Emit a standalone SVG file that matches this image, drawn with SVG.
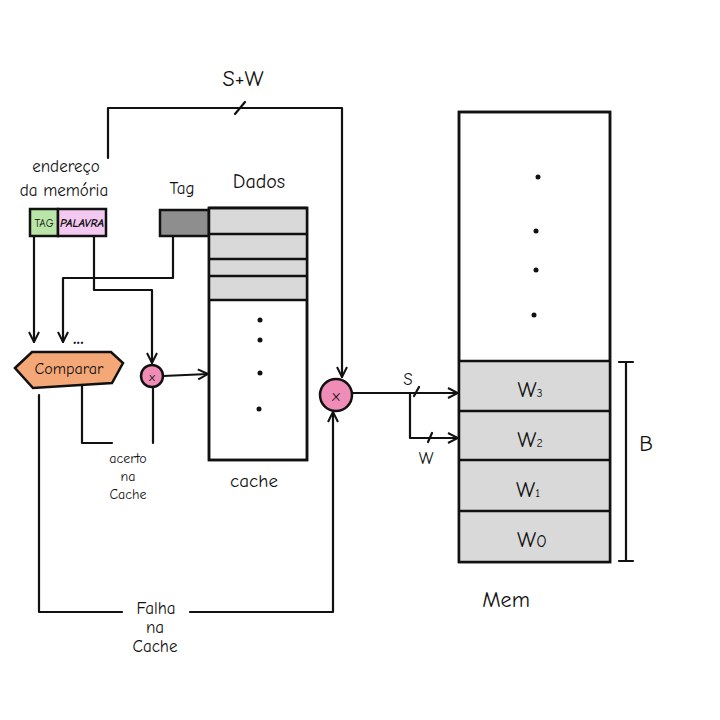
<svg xmlns="http://www.w3.org/2000/svg" width="720" height="720" viewBox="0 0 720 720">
<defs>
<marker id="ah" viewBox="0 0 12 12" refX="11" refY="6" markerWidth="12" markerHeight="12" markerUnits="userSpaceOnUse" orient="auto">
<path d="M1,1 L11,6 L1,11" fill="none" stroke="#111" stroke-width="2"/>
</marker>
</defs>
<style>
.ln{fill:none;stroke:#111;stroke-width:2.2;stroke-linecap:round;stroke-linejoin:round}
.bx{stroke:#111;stroke-width:2.5}
.t{font-family:"Comic Neue","Liberation Sans","DejaVu Sans",sans-serif;fill:#111;font-size:17px}
.s{font-size:14px}
.c{text-anchor:middle}
</style>
<rect width="720" height="720" fill="#fff"/>
<g id="connectors">
<path class="ln" d="M108,158 V108 H342 V377" marker-end="url(#ah)"/>
<path class="ln" d="M235,114 L245,102"/>
<path class="ln" d="M34,237 V342" marker-end="url(#ah)"/>
<path class="ln" d="M173,237 V278 H63 V342" marker-end="url(#ah)"/>
<path class="ln" d="M94,237 V290 H152 V363" marker-end="url(#ah)"/>
<path class="ln" d="M163,376 L208,374" marker-end="url(#ah)"/>
<path class="ln" d="M153,388 V443"/>
<path class="ln" d="M82,386 V443 H112"/>
<path class="ln" d="M39,395 V612 H122"/>
<path class="ln" d="M190,612 H333 V412" marker-end="url(#ah)"/>
<path class="ln" d="M353,393 H458" marker-end="url(#ah)"/>
<path class="ln" d="M414,396 L419,387"/>
<path class="ln" d="M410,393 V438 H458" marker-end="url(#ah)"/>
<path class="ln" d="M428,442 L432,433"/>
</g>
<g id="address">
<text class="t c" x="66" y="172">endereço</text>
<text class="t c" x="64" y="196">da memória</text>
<rect class="bx" x="30" y="209" width="28" height="27" fill="#b9e6a8"/>
<rect class="bx" x="58" y="209" width="48" height="27" fill="#f3c8f1"/>
<text class="t c" x="44" y="227" style="font-size:11px">TAG</text>
<text class="t c" x="82" y="227" style="font-size:11px;font-style:italic;font-weight:bold" textLength="44" lengthAdjust="spacingAndGlyphs">PALAVRA</text>
</g>
<g id="compare">
<polygon class="bx" points="15,368 32,352 111,352 123,363 112,383 33,388" fill="#f5a877"/>
<text class="t c" x="69" y="374" style="font-size:16px">Comparar</text>
<text class="t" x="73" y="344" style="font-size:20px;font-weight:bold">...</text>
</g>
<g id="mux1">
<circle class="bx" cx="152" cy="376" r="11" fill="#f08db6"/>
<text class="t c" x="152" y="381" style="font-size:12px">x</text>
</g>
<g id="hit">
<text class="t c s" x="128" y="463">acerto</text>
<text class="t c s" x="128" y="481">na</text>
<text class="t c s" x="128" y="499">Cache</text>
</g>
<g id="cache">
<text class="t c" x="182" y="194">Tag</text>
<text class="t c" x="259" y="188" style="font-size:20px">Dados</text>
<rect class="bx" x="160" y="210" width="49" height="26" fill="#8e8e8e"/>
<rect class="bx" x="209" y="208" width="98" height="252" fill="#fff"/>
<rect x="210" y="209" width="96" height="91" fill="#d9d9d9"/>
<path class="bx" d="M209,208 H307 M209,234 H307 M209,259 H307 M209,276 H307 M209,300 H307"/>
<rect class="bx" x="209" y="208" width="98" height="252" fill="none"/>
<circle cx="260" cy="320" r="2.5" fill="#111"/>
<circle cx="260" cy="340" r="2.5" fill="#111"/>
<circle cx="260" cy="373" r="2.5" fill="#111"/>
<circle cx="259" cy="409" r="2.5" fill="#111"/>
<text class="t c" x="254" y="487" style="font-size:19px">cache</text>
</g>
<g id="mux2">
<circle class="bx" cx="336" cy="395" r="16" fill="#f08db6"/>
<text class="t c" x="336" y="401" style="font-size:16px">x</text>
</g>
<g id="labels">
<text class="t c" x="243" y="86" style="font-size:22px">S+W</text>
<text class="t c" x="408" y="385">S</text>
<text class="t c" x="426" y="464">W</text>
<text class="t c" x="156" y="614">Falha</text>
<text class="t c" x="155" y="633">na</text>
<text class="t c" x="155" y="652">Cache</text>
</g>
<g id="mem">
<rect class="bx" x="459" y="112" width="151" height="450" fill="#fff"/>
<rect x="460" y="361" width="149" height="200" fill="#d9d9d9"/>
<path class="bx" d="M459,361 H610 M459,411 H610 M459,460 H610 M459,511 H610"/>
<rect class="bx" x="459" y="112" width="151" height="450" fill="none"/>
<circle cx="538" cy="177" r="2.5" fill="#111"/>
<circle cx="536" cy="231" r="2.5" fill="#111"/>
<circle cx="536" cy="270" r="2.5" fill="#111"/>
<circle cx="534" cy="315" r="2.5" fill="#111"/>
<text class="t c" x="530" y="397" style="font-size:22px">W<tspan style="font-size:12px">3</tspan></text>
<text class="t c" x="530" y="447" style="font-size:22px">W<tspan style="font-size:12px">2</tspan></text>
<text class="t c" x="528" y="497" style="font-size:22px">W<tspan style="font-size:12px">1</tspan></text>
<text class="t c" x="532" y="547" style="font-size:22px">W<tspan style="font-size:18px">0</tspan></text>
<text class="t c" x="506" y="607" style="font-size:22px">Mem</text>
</g>
<g id="brace">
<path class="ln" d="M626,362 V561 M619,362 H633 M619,561 H633"/>
<text class="t c" x="646" y="451" style="font-size:22px">B</text>
</g>
</svg>
